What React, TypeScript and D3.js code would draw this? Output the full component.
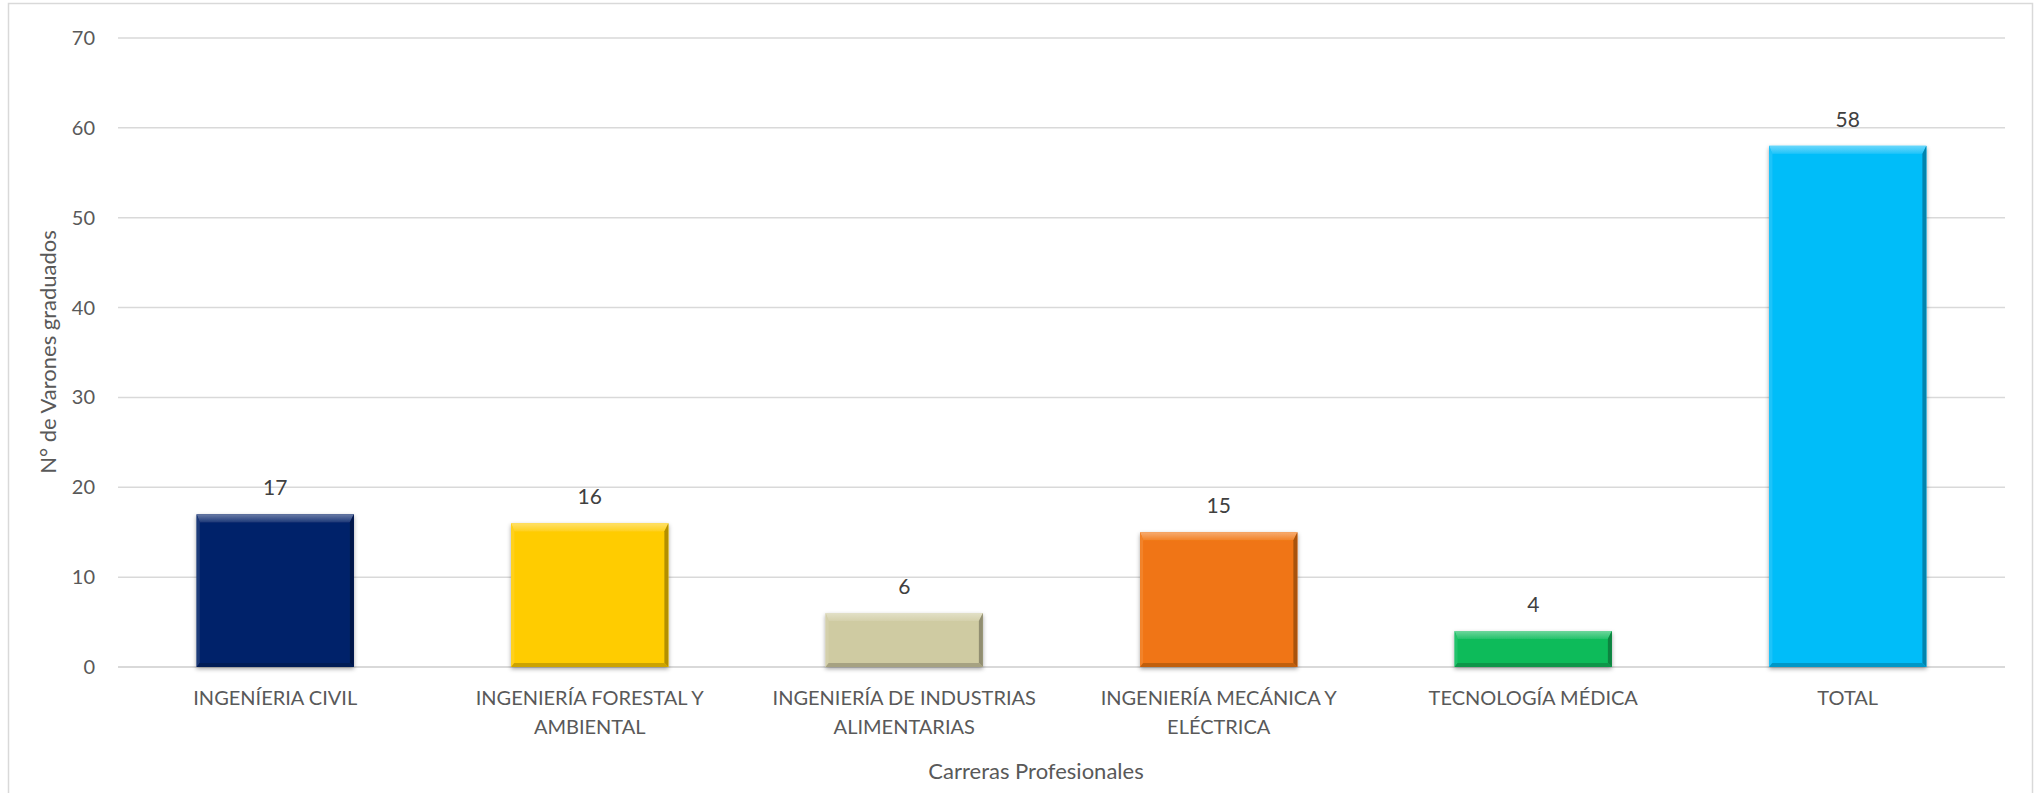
import React from "react";
import * as d3 from "d3";

const categories: string[] = [
  "INGENÍERIA CIVIL",
  "INGENIERÍA FORESTAL Y\nAMBIENTAL",
  "INGENIERÍA DE INDUSTRIAS\nALIMENTARIAS",
  "INGENIERÍA MECÁNICA Y\nELÉCTRICA",
  "TECNOLOGÍA MÉDICA",
  "TOTAL",
];
const values: number[] = [17, 16, 6, 15, 4, 58];
const barColors: string[] = ["#06246A", "#FFCC05", "#CFCBA2", "#F07512", "#0BBB5A", "#06BDF9"];
const yTicks: number[] = [0, 10, 20, 30, 40, 50, 60, 70];
const yTitle = "N° de Varones graduados";
const xTitle = "Carreras Profesionales";

const W = 2038;
const H = 793;
const FONT = "Lato, 'Open Sans', sans-serif";

export default function App() {
  const left = 118;
  const right = 2005;
  const y0 = 667;
  const yTop = 38;

  const x = d3.scaleBand<string>().domain(categories).range([left, right]).paddingInner(0.5).paddingOuter(0.25);
  const y = d3.scaleLinear().domain([0, 70]).range([y0, yTop]);

  const bw = x.bandwidth();

  const bevel = (i: number) => {
    const c = barColors[i];
    const bx = x(categories[i])!;
    const by = y(values[i]);
    const h = y0 - by;
    const t = Math.min(8, h / 2);
    const s = 3;
    const r = 4;
    const b = Math.min(4, h / 4);
    const lighter = d3.interpolateRgb(c, "#ffffff")(0.4);
    const light = d3.interpolateRgb(c, "#ffffff")(0.1);
    const dark = d3.interpolateRgb(c, "#000000")(0.3);
    const darkB = d3.interpolateRgb(c, "#000000")(0.2);
    const x1 = bx, x2 = bx + bw, ya = by, yb = y0;
    return (
      <g key={i} filter="url(#shadow)">
        <rect x={x1} y={ya} width={bw} height={h} fill={c} />
        <polygon points={`${x1},${ya} ${x2},${ya} ${x2 - r},${ya + t} ${x1 + s},${ya + t}`} fill={`url(#topg${i})`} />
        <polygon points={`${x1},${ya} ${x1 + s},${ya + t} ${x1 + s},${yb - b} ${x1},${yb}`} fill={light} />
        <polygon points={`${x2},${ya} ${x2},${yb} ${x2 - r},${yb - b} ${x2 - r},${ya + t}`} fill={dark} />
        <polygon points={`${x1},${yb} ${x1 + s},${yb - b} ${x2 - r},${yb - b} ${x2},${yb}`} fill={darkB} />
        <defs>
          <linearGradient id={`topg${i}`} x1="0" y1="0" x2="0" y2="1">
            <stop offset="0%" stopColor={lighter} />
            <stop offset="100%" stopColor={light} />
          </linearGradient>
        </defs>
      </g>
    );
  };

  return (
    <svg
      width={W}
      height={H}
      style={{ position: "absolute", left: 0, top: 0, background: "#fff" }}
      fontFamily={FONT}
    >
      <defs>
        <filter id="shadow" x="-10%" y="-10%" width="120%" height="130%">
          <feDropShadow dx="0" dy="2" stdDeviation="2" floodColor="#000" floodOpacity="0.35" />
        </filter>
      </defs>
      <rect x={0} y={0} width={W} height={H} fill="#fff" />
      <rect x={8.5} y={3.5} width={2024} height={H + 10} fill="none" stroke="#d9d9d9" strokeWidth={1.5} />

      {yTicks.map((t) => (
        <g key={t}>
          <line x1={left} x2={right} y1={y(t)} y2={y(t)} stroke="#d9d9d9" strokeWidth={t === 0 ? 2 : 1.5} />
          <text x={95} y={y(t)} dy="0.35em" textAnchor="end" fontSize={20} fill="#595959">
            {t}
          </text>
        </g>
      ))}

      {categories.map((_, i) => bevel(i))}

      {categories.map((c, i) => (
        <text
          key={"v" + i}
          x={x(c)! + bw / 2}
          y={y(values[i]) - 19}
          textAnchor="middle"
          fontSize={21}
          fill="#404040"
        >
          {values[i]}
        </text>
      ))}

      {categories.map((c, i) => (
        <text key={"c" + i} x={x(c)! + bw / 2} y={705} textAnchor="middle" fontSize={20} fill="#595959">
          {c.split("\n").map((ln, k) => (
            <tspan key={k} x={x(c)! + bw / 2} dy={k === 0 ? 0 : 29}>
              {ln}
            </tspan>
          ))}
        </text>
      ))}

      <text x={1036} y={779} textAnchor="middle" fontSize={22} fill="#595959">
        {xTitle}
      </text>
      <text
        transform={`translate(56,352) rotate(-90)`}
        textAnchor="middle"
        fontSize={22}
        fill="#595959"
      >
        {yTitle}
      </text>
    </svg>
  );
}
